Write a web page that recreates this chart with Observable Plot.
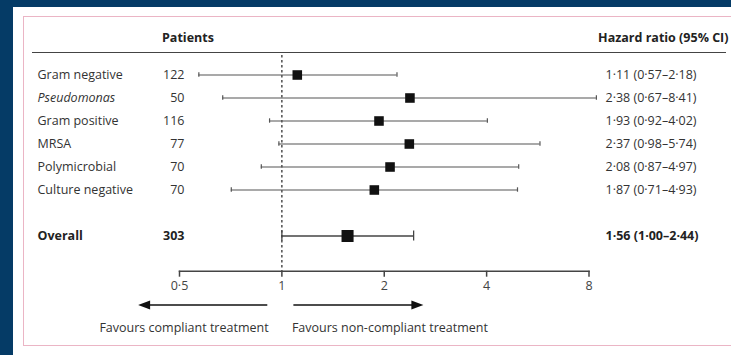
<!DOCTYPE html>
<html>
<head>
<meta charset="utf-8">
<script src="https://cdn.jsdelivr.net/npm/d3@7"></script>
<script src="https://cdn.jsdelivr.net/npm/@observablehq/plot@0.6"></script>
<style>
  html, body { margin: 0; padding: 0; }
  body { width: 731px; height: 355px; overflow: hidden; position: relative; background: #053b66; font-family: "Open Sans", sans-serif; }
  #panel { position: absolute; left: 13px; top: 7px; right: 0; bottom: 0; background: #fff; }
  #border { position: absolute; left: 23px; top: 16px; width: 740px; height: 328px; border: 1.5px solid #ebb5c5; }
  #hrule { position: absolute; left: 32px; top: 51.5px; width: 694px; height: 0; border-top: 1.5px solid #444; }
  #chart { position: absolute; left: 0; top: 0; }
</style>
</head>
<body>
<div id="panel"></div>
<div id="border"></div>
<div id="hrule"></div>
<div id="chart"></div>
<script>
const categories = ["Gram negative", "Pseudomonas", "Gram positive", "MRSA", "Polymicrobial", "Culture negative"];
const patients = [122, 50, 116, 77, 70, 70];
const hazard = [1.11, 2.38, 1.93, 2.37, 2.08, 1.87];
const lower = [0.57, 0.67, 0.92, 0.98, 0.87, 0.71];
const upper = [2.18, 8.41, 4.02, 5.74, 4.97, 4.93];
const italicCategories = ["Pseudomonas"];

const overallLabel = ["Overall"];
const overallPatients = [303];
const overallHazard = [1.56];
const overallLower = [1.00];
const overallUpper = [2.44];

const tickValues = [0.5, 1, 2, 4, 8];
const headers = ["Patients", "Hazard ratio (95% CI)"];
const favourLabels = ["Favours compliant treatment", "Favours non-compliant treatment"];
const favourFrom = [0.906, 1.081];
const favourTo = [0.407, 2.42];
const favourRotate = [180, 0];

const fmt = v => v.toFixed(2).replace(".", "·");
const tickFmt = v => String(v).replace(".", "·");

const rows = categories.map((c, i) => ({name: c, n: patients[i], hr: hazard[i], lo: lower[i], hi: upper[i],
  ci: `${fmt(hazard[i])} (${fmt(lower[i])}–${fmt(upper[i])})`}));
const overall = overallLabel.map((c, i) => ({name: c, n: overallPatients[i], hr: overallHazard[i], lo: overallLower[i], hi: overallUpper[i],
  ci: `${fmt(overallHazard[i])} (${fmt(overallLower[i])}–${fmt(overallUpper[i])})`}));
const arrows = favourLabels.map((l, i) => ({label: l, from: favourFrom[i], to: favourTo[i], rot: favourRotate[i], y: overallLabel[0]}));
const ticks = tickValues.map(v => ({v, label: tickFmt(v)}));

// right-pointing filled arrowhead; base at origin, tip forward
const arrowHead = {
  draw(context) {
    context.moveTo(-1, -4.5);
    context.lineTo(11, 0);
    context.lineTo(-1, 4.5);
    context.closePath();
  }
};

const yDomain = [...categories, " ", ...overallLabel];
const txt = "#333";
const fs = 12.5;
const ff = "'Open Sans', sans-serif";
const H = 355, MT = 55, MB = 84.3;
const frameH = H - MT - MB;

const plot = Plot.plot({
  width: 731,
  height: H,
  marginLeft: 179,
  marginRight: 142.5,
  marginTop: MT,
  marginBottom: MB,
  style: {background: "transparent", fontFamily: ff, fontSize: fs + "px", color: txt, overflow: "visible"},
  x: {type: "log", domain: [0.5, 8], axis: null},
  y: {type: "band", domain: yDomain, range: [59.85, 249.55], padding: 0, axis: null},
  marks: [
    // x axis: baseline, ticks, labels
    Plot.frame({anchor: "bottom", stroke: "#444", strokeWidth: 1.5}),
    Plot.tickX(ticks, {x: "v", stroke: "#444", strokeWidth: 1.5, insetTop: frameH, insetBottom: -6}),
    Plot.text(ticks, {x: "v", text: "label", frameAnchor: "bottom", dy: 18.5, fill: "#444", fontSize: fs}),
    Plot.ruleX([1], {stroke: "#333", strokeWidth: 1.3, strokeDasharray: "2.5,2.5"}),
    // CI lines
    Plot.ruleY(rows, {x1: "lo", x2: "hi", y: "name", stroke: "#555", strokeWidth: 1.2}),
    Plot.tickX(rows, {x: "lo", y: "name", stroke: "#555", strokeWidth: 1.2, insetTop: 9.3, insetBottom: 9.3}),
    Plot.tickX(rows, {x: "hi", y: "name", stroke: "#555", strokeWidth: 1.2, insetTop: 9.3, insetBottom: 9.3}),
    Plot.dot(rows, {x: "hr", y: "name", symbol: "square", r: 5.4, fill: "#111", stroke: null}),
    Plot.ruleY(overall, {x1: "lo", x2: "hi", y: "name", stroke: "#444", strokeWidth: 1.3}),
    Plot.tickX(overall, {x: "lo", y: "name", stroke: "#444", strokeWidth: 1.3, insetTop: 6.5, insetBottom: 6.5}),
    Plot.tickX(overall, {x: "hi", y: "name", stroke: "#444", strokeWidth: 1.3, insetTop: 6.5, insetBottom: 6.5}),
    Plot.dot(overall, {x: "hr", y: "name", symbol: "square", r: 6.8, fill: "#111", stroke: null}),
    // Labels
    Plot.text(rows.filter(d => !italicCategories.includes(d.name)), {y: "name", text: "name", frameAnchor: "left", dx: -142, textAnchor: "start", fill: txt, fontSize: fs}),
    Plot.text(rows.filter(d => italicCategories.includes(d.name)), {y: "name", text: "name", frameAnchor: "left", dx: -142, textAnchor: "start", fill: txt, fontSize: fs, fontStyle: "italic"}),
    Plot.text(rows, {y: "name", text: "n", frameAnchor: "left", dx: 5, textAnchor: "end", fill: txt, fontSize: fs}),
    Plot.text(rows, {y: "name", text: "ci", frameAnchor: "right", dx: 16.5, textAnchor: "start", fill: txt, fontSize: fs}),
    Plot.text(overall, {y: "name", text: "name", frameAnchor: "left", dx: -142, textAnchor: "start", fill: "#222", fontSize: fs, fontWeight: "bold"}),
    Plot.text(overall, {y: "name", text: "n", frameAnchor: "left", dx: 5, textAnchor: "end", fill: "#222", fontSize: fs, fontWeight: "bold"}),
    Plot.text(overall, {y: "name", text: "ci", frameAnchor: "right", dx: 16.5, textAnchor: "start", fill: "#222", fontSize: fs, fontWeight: "bold"}),
    // Headers
    Plot.text([headers[0]], {text: d => d, frameAnchor: "top-left", dx: -17.5, dy: -18, textAnchor: "start", lineAnchor: "middle", fill: "#222", fontSize: fs, fontWeight: "bold"}),
    Plot.text([headers[1]], {text: d => d, frameAnchor: "top-right", dx: 139.5, dy: -18, textAnchor: "end", lineAnchor: "middle", fill: "#222", fontSize: fs, fontWeight: "bold"}),
    // Favours arrows and labels
    Plot.link(arrows, {x1: "from", x2: "to", y1: "y", y2: "y", dy: 69, stroke: "#111", strokeWidth: 1.5}),
    Plot.dot(arrows, {x: "to", y: "y", dy: 69, symbol: arrowHead, rotate: "rot", r: 5, fill: "#111", stroke: null}),
    Plot.text(arrows.slice(0, 1), {text: "label", frameAnchor: "bottom-left", dx: 4.5, dy: 61, textAnchor: "middle", fill: txt, fontSize: fs}),
    Plot.text(arrows.slice(1), {text: "label", x: 1, frameAnchor: "bottom", dx: 10, dy: 61, textAnchor: "start", fill: txt, fontSize: fs})
  ]
});
document.getElementById("chart").appendChild(plot);
</script>
</body>
</html>
